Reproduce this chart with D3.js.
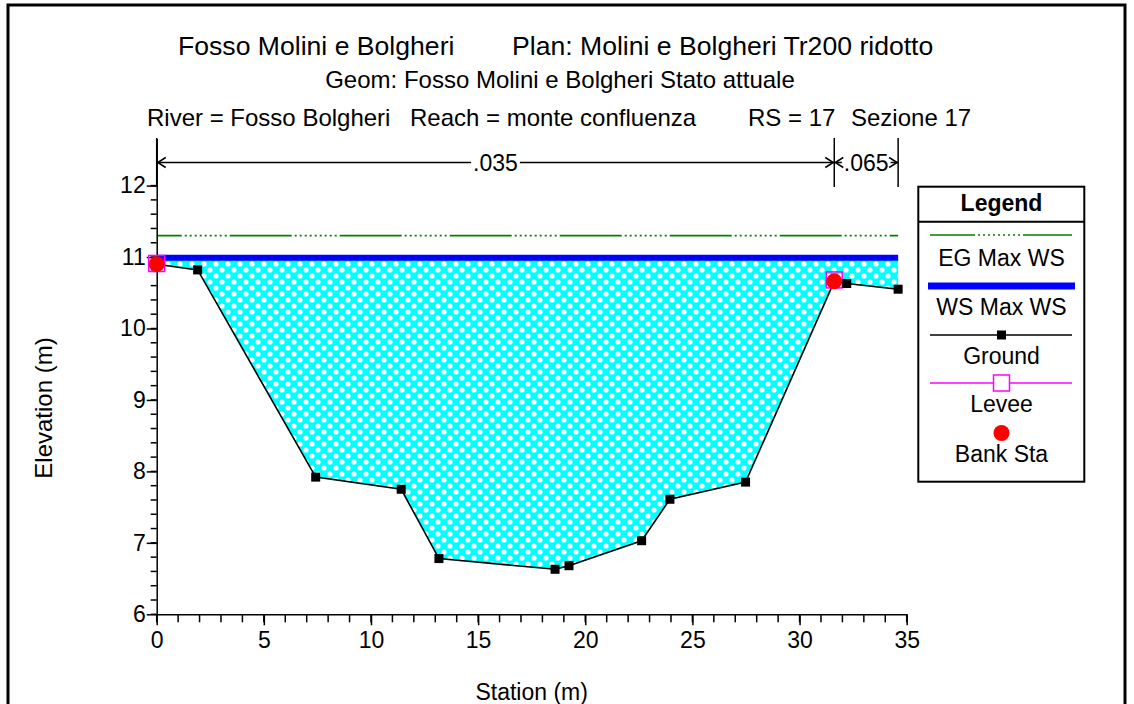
<!DOCTYPE html>
<html>
<head>
<meta charset="utf-8">
<script src="https://cdn.jsdelivr.net/npm/d3@7"></script>
<style>
body { margin: 0; background: #fff; }
svg { display: block; }
text { font-family: "Liberation Sans", Arial, sans-serif; fill: #000; }
</style>
</head>
<body>
<div id="chart"></div>
<script>
// cross section data
const station = [0, 1.91, 7.42, 11.41, 13.17, 18.59, 19.24, 22.63, 23.95, 27.48, 31.62, 32.2, 34.6];
const ground  = [10.9, 10.82, 7.92, 7.75, 6.78, 6.63, 6.68, 7.03, 7.61, 7.85, 10.66, 10.63, 10.55];
const leveeSta = [0, 31.62];
const leveeElev = [10.91, 10.68];
const bankSta = [0, 31.62];
const bankElev = [10.9, 10.66];
const wsElev = 10.99;
const egElev = 11.30;
const nStart = [0, 31.62];
const nEnd = [31.62, 34.6];
const nLabel = [".035", ".065"];
const xTicks = [0, 5, 10, 15, 20, 25, 30, 35];
const yTicks = [6, 7, 8, 9, 10, 11, 12];
const titleLine1 = ["Fosso Molini e Bolgheri", "Plan: Molini e Bolgheri Tr200 ridotto"];
const titleLine2 = "Geom: Fosso Molini e Bolgheri Stato attuale";
const titleLine3 = ["River = Fosso Bolgheri", "Reach = monte confluenza", "RS = 17", "Sezione 17"];
const legendNames = ["EG Max WS", "WS Max WS", "Ground", "Levee", "Bank Sta"];

const width = 1134, height = 704;

const svg = d3.select("#chart").append("svg")
    .attr("width", width)
    .attr("height", height);

// page frame
svg.append("rect")
    .attr("x", 8).attr("y", 5)
    .attr("width", 1117).attr("height", 720)
    .attr("fill", "none").attr("stroke", "#000").attr("stroke-width", 3);

const x = d3.scaleLinear().domain([0, 35]).range([156.7, 906.7]);
const y = d3.scaleLinear().domain([6, 12]).range([614.3, 185.6]);

// hatch pattern for the water
const defs = svg.append("defs");
const pat = defs.append("pattern")
    .attr("id", "hatch")
    .attr("patternUnits", "userSpaceOnUse")
    .attr("width", 12).attr("height", 12);
pat.append("rect").attr("width", 12).attr("height", 12).attr("fill", "#00ffff");
[[0, 0], [12, 0], [0, 12], [12, 12], [6, 6]].forEach(p => {
    pat.append("circle").attr("cx", p[0]).attr("cy", p[1]).attr("r", 2.6).attr("fill", "#fff");
});

// titles
svg.append("text").attr("x", 178).attr("y", 55).style("font-size", "26.6px").text(titleLine1[0]);
svg.append("text").attr("x", 512).attr("y", 55).style("font-size", "26.6px").text(titleLine1[1]);
svg.append("text").attr("x", 560).attr("y", 88).attr("text-anchor", "middle").style("font-size", "24px").text(titleLine2);
const t3x = [147, 410, 748, 851];
titleLine3.forEach((t, i) => {
    svg.append("text").attr("x", t3x[i]).attr("y", 126).style("font-size", "24px").text(t);
});

const groundPts = station.map((s, i) => ({s: s, z: ground[i]}));

// water fill
svg.append("path")
    .datum(groundPts)
    .attr("d", d3.area().x(d => x(d.s)).y0(y(wsElev)).y1(d => y(d.z)))
    .attr("fill", "url(#hatch)");

// ground line
svg.append("path")
    .datum(groundPts)
    .attr("d", d3.line().x(d => x(d.s)).y(d => y(d.z)))
    .attr("fill", "none").attr("stroke", "#000").attr("stroke-width", 1.6);

// EG line: long dash then dots
const egDash = [62, 3];
for (let i = 0; i < 9; i++) egDash.push(2, 3);
svg.append("line")
    .attr("x1", x(0)).attr("x2", x(d3.max(station)))
    .attr("y1", y(egElev)).attr("y2", y(egElev))
    .attr("stroke", "#008000").attr("stroke-width", 1.6)
    .attr("stroke-dasharray", egDash.join(","))
    .attr("stroke-dashoffset", 37);

// WS line
svg.append("line")
    .attr("x1", x(0)).attr("x2", x(d3.max(station)))
    .attr("y1", y(wsElev)).attr("y2", y(wsElev))
    .attr("stroke", "#0000ff").attr("stroke-width", 6);

// axes
const yAxisScale = y.copy().domain([6, 12.66]).range([y(6), y(12.66)]);
const yAx = svg.append("g").attr("transform", `translate(${x(0)},0)`)
    .call(d3.axisLeft(yAxisScale).tickValues(yTicks).tickSize(10).tickSizeOuter(0).tickFormat(d3.format("d")));
yAx.selectAll("text").style("font-size", "23px").attr("x", -11);
svg.append("g").selectAll("line")
    .data(d3.range(6, 12.01, 0.2))
    .join("line")
    .attr("x1", x(0) - 6).attr("x2", x(0))
    .attr("y1", d => y(d)).attr("y2", d => y(d))
    .attr("stroke", "#000").attr("stroke-width", 1.5);

const xAx = svg.append("g").attr("transform", `translate(0,${y(6)})`)
    .call(d3.axisBottom(x).tickValues(xTicks).tickSize(11).tickSizeOuter(0).tickFormat(d3.format("d")));
xAx.selectAll("text").style("font-size", "23px").attr("y", 17);
svg.append("g").selectAll("line")
    .data(d3.range(0, 35.01, 1))
    .join("line")
    .attr("x1", d => x(d)).attr("x2", d => x(d))
    .attr("y1", y(6)).attr("y2", y(6) + 8)
    .attr("stroke", "#000").attr("stroke-width", 1.5);
svg.selectAll(".domain, .tick line").attr("stroke-width", 1.5);

svg.append("text")
    .attr("transform", "translate(52,408) rotate(-90)")
    .attr("text-anchor", "middle").style("font-size", "24px")
    .text("Elevation (m)");
svg.append("text")
    .attr("x", (x(0) + x(35)) / 2).attr("y", 700)
    .attr("text-anchor", "middle").style("font-size", "23px")
    .text("Station (m)");

// Manning's n brackets
const by = 162.5, bTop = 138, bBot = 187;
const brk = svg.append("g").attr("stroke", "#000").attr("stroke-width", 1.5).attr("fill", "none");
const nEdges = [nStart[0]].concat(nEnd);
nEdges.forEach(s => {
    brk.append("line").attr("x1", x(s)).attr("x2", x(s)).attr("y1", bTop).attr("y2", bBot);
});
nStart.forEach((s, i) => {
    const a = x(s), b = x(nEnd[i]);
    brk.append("line").attr("x1", a).attr("x2", b).attr("y1", by).attr("y2", by);
    brk.append("path").attr("d", `M${a + 9},${by - 5}L${a + 1},${by}L${a + 9},${by + 5}`);
    brk.append("path").attr("d", `M${b - 9},${by - 5}L${b - 1},${by}L${b - 9},${by + 5}`);
});
const nLab = svg.append("g");
nStart.forEach((s, i) => {
    const g = nLab.append("g");
    const t = g.append("text")
        .attr("x", (x(s) + x(nEnd[i])) / 2).attr("y", by + 8)
        .attr("text-anchor", "middle").style("font-size", "23px")
        .text(nLabel[i]);
    const bb = t.node().getBBox();
    g.insert("rect", "text")
        .attr("x", bb.x - 2).attr("y", by - 3)
        .attr("width", bb.width + 4).attr("height", 6)
        .attr("fill", "#fff");
});

// levee squares
svg.append("g").selectAll("rect")
    .data(leveeSta)
    .join("rect")
    .attr("x", d => x(d) - 8)
    .attr("y", (d, i) => y(leveeElev[i]) - 8)
    .attr("width", 16).attr("height", 16)
    .attr("fill", "none").attr("stroke", "#ff00ff").attr("stroke-width", 1.5);

// ground markers
svg.append("g").selectAll("rect")
    .data(groundPts)
    .join("rect")
    .attr("x", d => x(d.s) - 4.5).attr("y", d => y(d.z) - 4.5)
    .attr("width", 9).attr("height", 9)
    .attr("fill", "#000");

// bank stations
svg.append("g").selectAll("circle")
    .data(bankSta)
    .join("circle")
    .attr("cx", d => x(d))
    .attr("cy", (d, i) => y(bankElev[i]))
    .attr("r", 8)
    .attr("fill", "#ff0000");

// legend
const leg = svg.append("g");
leg.append("rect")
    .attr("x", 918.3).attr("y", 186.7).attr("width", 166).attr("height", 295)
    .attr("fill", "#fff").attr("stroke", "#000").attr("stroke-width", 2);
leg.append("line").attr("x1", 918.3).attr("x2", 1084.3).attr("y1", 221.7).attr("y2", 221.7)
    .attr("stroke", "#000").attr("stroke-width", 2);
leg.append("text").attr("x", 1001.5).attr("y", 211).attr("text-anchor", "middle")
    .style("font-size", "23px").style("font-weight", "bold").text("Legend");

const lx1 = 930, lx2 = 1072, lmid = 1001.5;
const symY = [235, 286, 335, 383, 433];
const txtY = [266, 315, 364, 412, 462];
leg.append("line").attr("x1", lx1).attr("x2", lx2).attr("y1", symY[0]).attr("y2", symY[0])
    .attr("stroke", "#008000").attr("stroke-width", 1.6)
    .attr("stroke-dasharray", egDash.join(",")).attr("stroke-dashoffset", 17);
leg.append("line").attr("x1", lx1 - 2).attr("x2", lx2 + 3).attr("y1", symY[1]).attr("y2", symY[1])
    .attr("stroke", "#0000ff").attr("stroke-width", 7);
leg.append("line").attr("x1", lx1).attr("x2", lx2).attr("y1", symY[2]).attr("y2", symY[2])
    .attr("stroke", "#000").attr("stroke-width", 1.5);
leg.append("rect").attr("x", lmid - 4.5).attr("y", symY[2] - 4.5).attr("width", 9).attr("height", 9).attr("fill", "#000");
leg.append("line").attr("x1", lx1).attr("x2", lx2).attr("y1", symY[3]).attr("y2", symY[3])
    .attr("stroke", "#ff00ff").attr("stroke-width", 1.5);
leg.append("rect").attr("x", lmid - 8).attr("y", symY[3] - 8).attr("width", 16).attr("height", 16)
    .attr("fill", "#fff").attr("stroke", "#ff00ff").attr("stroke-width", 1.5);
leg.append("circle").attr("cx", lmid).attr("cy", symY[4]).attr("r", 8).attr("fill", "#ff0000");
legendNames.forEach((n, i) => {
    leg.append("text").attr("x", lmid).attr("y", txtY[i]).attr("text-anchor", "middle")
        .style("font-size", "23px").text(n);
});
</script>
</body>
</html>
